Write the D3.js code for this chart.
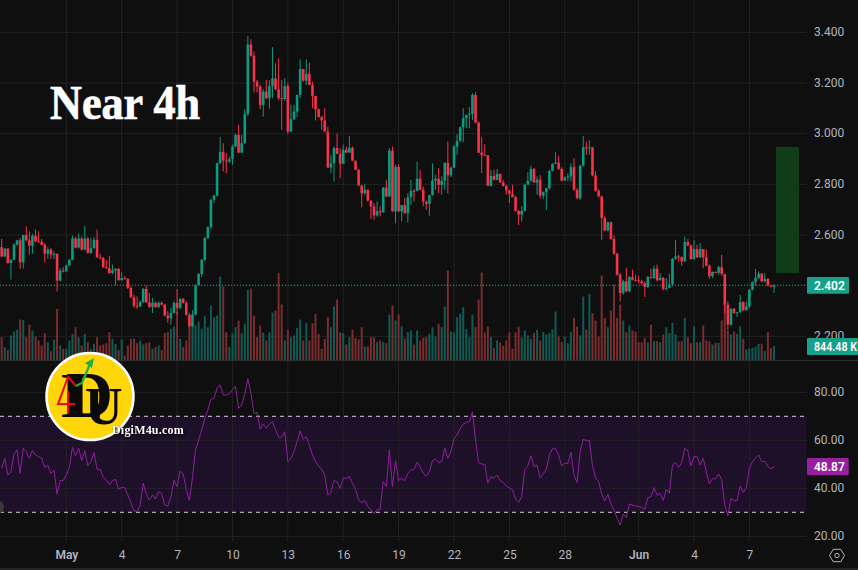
<!DOCTYPE html>
<html><head><meta charset="utf-8">
<style>html,body{margin:0;padding:0;background:#0f0f0f;overflow:hidden}svg{display:block}</style>
<script src="https://cdn.jsdelivr.net/npm/d3@7"></script>
</head><body><svg id="c" width="858" height="570"></svg>
<script>
const firstOpen = 2.552;
const closes = [2.515,2.546,2.489,2.502,2.561,2.579,2.492,2.600,2.579,2.558,
2.597,2.575,2.573,2.561,2.526,2.542,2.522,2.526,2.420,2.459,
2.456,2.479,2.502,2.586,2.550,2.586,2.542,2.586,2.529,2.548,
2.581,2.512,2.509,2.473,2.469,2.450,2.460,2.466,2.421,2.430,
2.426,2.391,2.354,2.321,2.318,2.335,2.387,2.334,2.316,2.332,
2.316,2.332,2.325,2.282,2.271,2.292,2.332,2.312,2.347,2.332,
2.284,2.240,2.286,2.402,2.446,2.502,2.588,2.631,2.739,2.755,
2.883,2.928,2.894,2.890,2.899,2.949,2.995,2.925,2.962,3.077,
3.352,3.307,3.205,3.186,3.113,3.166,3.140,3.188,3.218,3.175,
3.140,3.136,3.188,3.008,3.057,3.087,3.153,3.255,3.209,3.236,
3.192,3.149,3.096,3.065,3.052,3.008,2.866,2.883,2.943,2.920,
2.881,2.936,2.925,2.944,2.893,2.857,2.795,2.765,2.778,2.736,
2.713,2.677,2.694,2.689,2.787,2.752,2.933,2.693,2.869,2.693,
2.718,2.686,2.749,2.774,2.773,2.822,2.778,2.732,2.723,2.757,
2.814,2.822,2.798,2.814,2.885,2.835,2.866,2.949,2.971,3.025,
3.061,3.074,3.078,3.153,3.044,2.925,2.916,2.915,2.794,2.833,
2.818,2.841,2.807,2.794,2.776,2.763,2.749,2.695,2.680,2.695,
2.798,2.814,2.861,2.807,2.818,2.755,2.769,2.785,2.853,2.881,
2.886,2.861,2.815,2.828,2.831,2.868,2.778,2.745,2.873,2.946,
2.944,2.946,2.835,2.774,2.752,2.667,2.618,2.650,2.584,2.526,
2.443,2.371,2.417,2.378,2.434,2.423,2.421,2.417,2.410,2.395,
2.434,2.430,2.467,2.421,2.430,2.387,2.391,2.404,2.506,2.515,
2.513,2.496,2.572,2.559,2.505,2.544,2.512,2.544,2.512,2.479,
2.437,2.454,2.451,2.473,2.446,2.325,2.246,2.308,2.292,2.295,
2.335,2.303,2.318,2.384,2.414,2.430,2.447,2.417,2.426,2.400,
2.396,2.402];
const highs = [2.584,2.548,2.548,2.505,2.568,2.581,2.588,2.601,2.634,2.614,
2.605,2.621,2.614,2.584,2.568,2.552,2.548,2.535,2.526,2.469,
2.473,2.483,2.505,2.597,2.592,2.605,2.594,2.636,2.592,2.588,
2.592,2.621,2.526,2.513,2.502,2.518,2.483,2.469,2.469,2.452,
2.437,2.430,2.397,2.364,2.358,2.342,2.391,2.400,2.371,2.351,
2.338,2.338,2.338,2.329,2.299,2.312,2.338,2.387,2.351,2.351,
2.338,2.292,2.303,2.405,2.450,2.505,2.592,2.634,2.741,2.759,
2.886,2.986,2.962,2.923,2.910,2.956,3.000,3.035,2.995,3.096,
3.385,3.372,3.324,3.212,3.192,3.175,3.212,3.212,3.341,3.278,
3.297,3.212,3.218,3.201,3.113,3.113,3.153,3.293,3.254,3.293,
3.280,3.205,3.149,3.100,3.070,3.100,3.028,2.916,2.949,3.000,
2.943,2.956,2.949,2.991,2.949,2.893,2.860,2.798,2.802,2.781,
2.736,2.726,2.732,2.713,2.789,2.818,2.943,2.949,2.877,2.879,
2.719,2.745,2.765,2.818,2.782,2.889,2.857,2.791,2.736,2.759,
2.883,2.837,2.864,2.831,2.886,2.969,2.868,2.956,2.998,3.028,
3.100,3.074,3.104,3.159,3.163,3.048,2.986,2.958,2.915,2.857,
2.857,2.860,2.841,2.818,2.798,2.778,2.798,2.755,2.699,2.713,
2.802,2.847,2.873,2.864,2.831,2.837,2.772,2.785,2.857,2.883,
2.927,2.912,2.868,2.831,2.844,2.883,2.903,2.785,2.877,2.991,
2.969,2.973,2.946,2.851,2.781,2.755,2.676,2.653,2.653,2.597,
2.529,2.450,2.423,2.469,2.437,2.463,2.443,2.439,2.423,2.417,
2.439,2.466,2.479,2.483,2.450,2.434,2.430,2.447,2.509,2.581,
2.522,2.515,2.594,2.584,2.561,2.579,2.561,2.568,2.542,2.542,
2.483,2.456,2.456,2.479,2.522,2.446,2.338,2.312,2.312,2.295,
2.364,2.338,2.338,2.387,2.417,2.466,2.456,2.450,2.450,2.430,
2.401,2.405];
const lows = [2.513,2.513,2.487,2.424,2.500,2.558,2.466,2.468,2.575,2.522,
2.526,2.571,2.571,2.558,2.492,2.505,2.505,2.505,2.377,2.417,
2.452,2.463,2.500,2.500,2.547,2.547,2.539,2.539,2.526,2.526,
2.546,2.509,2.505,2.469,2.466,2.446,2.446,2.402,2.421,2.421,
2.424,2.387,2.351,2.312,2.308,2.316,2.332,2.332,2.312,2.292,
2.312,2.312,2.321,2.279,2.253,2.246,2.289,2.286,2.308,2.329,
2.282,2.237,2.237,2.282,2.400,2.434,2.496,2.585,2.623,2.726,
2.752,2.881,2.851,2.844,2.883,2.877,2.946,2.923,2.923,2.960,
3.070,3.304,3.162,3.162,3.096,3.067,3.136,3.098,3.140,3.172,
3.133,3.015,3.129,3.000,3.008,3.054,3.065,3.140,3.205,3.192,
3.192,3.100,3.052,3.065,3.015,3.008,2.866,2.844,2.811,2.920,
2.824,2.881,2.923,2.925,2.893,2.857,2.795,2.709,2.759,2.732,
2.663,2.660,2.673,2.673,2.689,2.749,2.752,2.692,2.647,2.690,
2.653,2.684,2.650,2.719,2.732,2.774,2.776,2.713,2.699,2.676,
2.755,2.778,2.765,2.759,2.778,2.765,2.828,2.864,2.916,2.969,
2.966,3.021,3.021,3.054,3.041,2.923,2.844,2.916,2.794,2.791,
2.815,2.815,2.805,2.791,2.759,2.726,2.749,2.693,2.640,2.653,
2.693,2.798,2.811,2.805,2.759,2.745,2.741,2.699,2.778,2.851,
2.881,2.857,2.811,2.814,2.811,2.811,2.774,2.741,2.739,2.870,
2.916,2.916,2.831,2.772,2.749,2.581,2.614,2.614,2.581,2.522,
2.439,2.338,2.364,2.374,2.374,2.421,2.417,2.410,2.404,2.355,
2.391,2.426,2.426,2.417,2.421,2.381,2.381,2.400,2.400,2.502,
2.496,2.479,2.492,2.555,2.502,2.502,2.509,2.509,2.469,2.476,
2.426,2.430,2.450,2.443,2.439,2.292,2.226,2.242,2.289,2.276,
2.292,2.299,2.301,2.312,2.381,2.400,2.426,2.414,2.413,2.397,
2.393,2.371];
const volumes = [1358,776,621,1455,1688,1785,2386,2367,1358,2095,
1746,1397,1164,873,1591,1067,543,1203,3007,873,
679,679,1164,1552,1940,1358,873,1552,1067,679,
970,1358,873,931,1009,1649,1261,970,621,1222,
291,873,1261,1261,1009,1164,931,1028,1067,679,
776,873,621,1591,1649,1843,1979,2813,1261,776,
1164,2037,2231,2037,2270,1843,2580,1940,3201,2522,
2619,4889,4307,1649,776,1591,1940,2328,1591,2134,
4113,4171,2619,1358,2037,1630,1164,1630,2794,2910,
5083,3259,1164,1785,1358,1455,1901,2386,1164,2173,
1164,2173,2716,1552,679,1261,2522,1940,3143,3550,
1630,1591,931,1358,1804,1319,1222,1940,815,815,
1358,1358,1067,1164,1067,1009,2677,3201,2328,2677,
1979,1261,1649,1746,931,1746,1164,1319,1358,1552,
1940,1397,2134,1940,3143,5238,1688,1649,2522,2716,
3104,1824,1358,2677,1940,3550,5122,1630,1979,1358,
718,1164,1048,854,1164,1630,679,1630,1979,1358,
1746,1455,1261,1591,1785,1164,1649,1513,1591,1804,
2852,1397,1067,1397,1009,1649,2483,1979,1455,3725,
1804,3880,2755,2328,1397,4947,2483,1940,2910,4423,
2483,3259,2328,1649,2037,1746,1688,1067,1067,1319,
1048,2095,1125,1125,1067,1513,1940,1591,2192,1513,
1125,1125,2483,1358,1009,1979,1067,1067,2037,1164,
1125,931,1028,1028,2328,3298,1746,1513,1688,1552,
1979,1261,640,698,737,815,970,970,543,1649,
737,844.48];
const rsi = [48.3,52.5,45.5,46.9,54.3,56.0,46.2,56.7,55.3,52.5,
55.7,53.9,53.2,52.5,48.6,49.7,46.2,47.6,37.6,43.2,
43.2,45.5,48.7,57.1,53.5,56.7,51.5,55.7,49.4,51.1,
54.9,47.9,47.9,44.6,43.5,41.5,43.2,43.7,39.6,40.4,
40.4,37.2,34.0,30.6,30.3,33.0,42.1,37.6,35.1,37.2,
35.6,38.6,37.9,33.0,32.6,36.5,43.5,40.7,47.2,46.0,
39.3,34.9,44.2,56.2,60.1,64.3,69.2,72.6,77.1,77.5,
81.7,83.1,78.9,78.9,79.3,81.2,82.4,73.3,74.7,79.3,
85.6,79.6,71.2,71.5,64.6,66.8,65.0,66.8,67.8,64.3,
61.2,61.2,63.6,51.1,52.5,
55.3,59.4,63.9,60.4,61.5,58.0,53.9,51.1,49.3,47.9,45.5,37.2,38.3,43.2,42.8,
40.0,44.2,44.2,44.9,42.1,39.6,35.1,34.0,34.9,32.4,31.0,29.6,31.2,31.2,42.8,
40.7,56.0,40.7,51.4,43.2,44.2,43.2,46.2,47.6,47.9,50.8,49.0,46.2,45.1,46.9,
51.5,52.2,50.7,51.2,56.7,52.5,55.3,60.8,62.2,65.0,66.8,67.4,67.8,71.9,60.1,
50.7,50.1,50.0,42.1,44.9,44.2,45.5,43.2,42.4,41.0,40.1,39.3,35.6,34.2,36.5,
47.9,49.4,53.6,49.0,49.7,44.2,46.0,47.9,53.9,56.5,56.5,53.9,49.3,50.4,50.4,
55.0,45.5,42.4,55.3,
60.4,59.9,59.9,49.3,44.4,42.8,37.6,34.7,37.5,33.5,31.0,27.5,24.7,29.3,27.8,
33.5,33.0,32.6,32.4,32.1,31.2,36.1,36.5,40.3,37.1,37.9,34.9,39.6,37.9,49.7,
50.7,48.7,50.7,56.7,55.7,49.3,53.2,53.2,49.7,52.5,46.9,41.8,44.0,44.0,46.0,
43.5,33.0,28.6,35.8,34.9,34.9,41.0,38.2,40.4,48.3,51.1,52.5,53.9,51.1,51.4,
49.0,48.2,48.87];
const priceTicks = [2.2,2.4,2.6,2.8,3.0,3.2,3.4];
const rsiTicks = [20,40,60,80];
const rsiBands = [30,70];
const dayIndex = [21,39,57,75,93,111,129,147,165,183,207,225,243];
const dayLabels = ['May','4','7','10','13','16','19','22','25','28','Jun','4','7'];
const lastPrice = 2.402, lastVolume = '844.48 K', lastRsi = '48.87';
const targetZone = [2.45,2.948];

const W=858,H=570,paneR=806.5,divY=360.5,axisY=541;
const GREEN='#0b9b80',RED='#f7324a',VG='#0f5b53',VR='#7a2c2e';
const svg=d3.select('#c');
const opens=closes.map((c,i)=>i?closes[i-1]:firstOpen);
const x=d3.scaleLinear().domain([21,243]).range([66.3,749.4]);
const py=d3.scaleLinear().domain([2.2,3.4]).range([336.3,32.3]);
const vy=d3.scaleLinear().domain([0,844.48]).range([360.5,346]);
const ry=d3.scaleLinear().domain([20,80]).range([536.3,392.3]);

svg.append('rect').attr('width',W).attr('height',H).attr('fill','#0f0f0f');
svg.append('rect').attr('x',0).attr('width',paneR).attr('y',ry(70)).attr('height',ry(30)-ry(70)).attr('fill','#1e1028');
const g=svg.append('g').attr('stroke','#222225').attr('stroke-width',1);
g.selectAll('.v').data(dayIndex).join('line').attr('x1',d=>x(d)).attr('x2',d=>x(d)).attr('y1',0).attr('y2',axisY);
g.selectAll('.p').data(priceTicks).join('line').attr('x1',0).attr('x2',paneR).attr('y1',d=>py(d)).attr('y2',d=>py(d));
g.selectAll('.r').data(rsiTicks).join('line').attr('x1',0).attr('x2',paneR).attr('y1',d=>ry(d)).attr('y2',d=>ry(d));
svg.append('g').selectAll('rect').data(volumes).join('rect')
 .attr('x',(d,i)=>x(i)-1).attr('width',2).attr('y',d=>vy(d)).attr('height',d=>vy(0)-vy(d))
 .attr('fill',(d,i)=>closes[i]>=opens[i]?VG:VR);
svg.append('rect').attr('x',776).attr('width',23).attr('y',py(targetZone[1])).attr('height',py(targetZone[0])-py(targetZone[1])).attr('fill','#123c18');
svg.append('line').attr('x1',0).attr('x2',paneR).attr('y1',py(lastPrice)).attr('y2',py(lastPrice)).attr('stroke','#1f9c86').attr('stroke-width',1).attr('stroke-dasharray','1 2');
const cg=svg.append('g');
cg.selectAll('line').data(closes).join('line')
 .attr('x1',(d,i)=>x(i)).attr('x2',(d,i)=>x(i)).attr('y1',(d,i)=>py(highs[i])).attr('y2',(d,i)=>py(lows[i]))
 .attr('stroke',(d,i)=>d>=opens[i]?GREEN:RED).attr('stroke-width',1);
cg.selectAll('rect').data(closes).join('rect')
 .attr('x',(d,i)=>x(i)-1.3).attr('width',2.6)
 .attr('y',(d,i)=>py(Math.max(d,opens[i])))
 .attr('height',(d,i)=>Math.max(1,Math.abs(py(d)-py(opens[i]))))
 .attr('fill',(d,i)=>d>=opens[i]?GREEN:RED);
svg.append('line').attr('x1',0).attr('x2',W).attr('y1',divY).attr('y2',divY).attr('stroke','#2e2e30');
svg.append('line').attr('x1',0).attr('x2',W).attr('y1',569).attr('y2',569).attr('stroke','#3a3a3c');
svg.selectAll('.band').data(rsiBands).join('line').attr('x1',0).attr('x2',paneR).attr('y1',d=>ry(d)).attr('y2',d=>ry(d))
 .attr('stroke','#d4cdd8').attr('stroke-width',1).attr('stroke-dasharray','4 4');
svg.append('path').datum(rsi).attr('fill','none').attr('stroke','#8e1f9f').attr('stroke-width',1)
 .attr('d',d3.line().x((d,i)=>x(i)).y(d=>ry(d)));
svg.append('circle').attr('cx',-3).attr('cy',507).attr('r',7).attr('fill','#3a3a3c');

function styleAxis(sel){sel.select('.domain').remove();sel.selectAll('.tick line').remove();
 sel.selectAll('text').attr('fill','#b2b5be').style('font-family','Roboto,sans-serif').style('font-size','12px');}
svg.append('g').attr('transform','translate(811,-0.5)')
 .call(d3.axisRight(py).tickValues(priceTicks.filter(d=>d!==2.4)).tickSize(0).tickPadding(3).tickFormat(d3.format('.3f'))).call(styleAxis);
svg.append('g').attr('transform','translate(811,-0.5)')
 .call(d3.axisRight(ry).tickValues(rsiTicks).tickSize(0).tickPadding(3).tickFormat(d3.format('.2f'))).call(styleAxis);
const ta=svg.append('g').attr('transform',`translate(0,${axisY})`)
 .call(d3.axisBottom(x).tickValues(dayIndex).tickSize(0).tickPadding(9).tickFormat((d,i)=>dayLabels[i])).call(styleAxis);
ta.selectAll('text').style('font-weight',d=>isNaN(+dayLabels[dayIndex.indexOf(d)])?'600':'400');

function tag(y0,y1,x1,fill,text,len){
 const gg=svg.append('g');
 gg.append('rect').attr('x',807).attr('y',y0).attr('width',x1-807).attr('height',y1-y0).attr('rx',1).attr('fill',fill);
 const t=gg.append('text').attr('x',814).attr('y',(y0+y1)/2+4.3).attr('fill','#fff').style('font-family','Roboto,sans-serif').style('font-size','12px').style('font-weight','600').text(text);
 if(len) t.attr('textLength',len).attr('lengthAdjust','spacingAndGlyphs');
}
tag(277,293.7,849,'#17a08a',d3.format('.3f')(lastPrice));
tag(338,355,858,'#17a08a',lastVolume,43);
tag(458,475.3,848.7,'#97209f',lastRsi);

const ic=svg.append('g').attr('transform','translate(837,555.5)').attr('fill','none').attr('stroke','#b2b5be').attr('stroke-width',1);
ic.append('path').attr('d','M-7.5,0L-3.8,-6.2H3.8L7.5,0L3.8,6.2H-3.8Z');
ic.append('circle').attr('r',2.2);

svg.append('text').attr('x',50).attr('y',119).attr('fill','#fff').attr('stroke','#fff').attr('stroke-width',0.7)
 .attr('textLength',150).attr('lengthAdjust','spacingAndGlyphs')
 .style('font-family','"Liberation Serif",serif').style('font-weight','700').style('font-size','49px').text('Near 4h');

const lg=svg.append('g');
lg.append('circle').attr('cx',90).attr('cy',396.5).attr('r',43.5).attr('fill','#ffd60a').attr('stroke','#fff').attr('stroke-width',2.5);
const serif=(t,xx,yy,fs)=>lg.append('text').attr('x',xx).attr('y',yy).attr('fill','#0a0a0a').style('font-family','"Liberation Serif",serif').style('font-weight','700').style('font-size',fs+'px').text(t);
serif('L',61,417,64);
serif('D',66,417,65);
serif('U',85,424,52);
lg.append('path').attr('d','M76,386L68,377L58,404H75M68,391V413').attr('fill','none').attr('stroke','#f00').attr('stroke-width',2);
lg.append('path').attr('d','M76,386L82,383L90,364').attr('fill','none').attr('stroke','#1fb141').attr('stroke-width',2.2);
lg.append('path').attr('d','M94,358L85,363L92,368Z').attr('fill','#1fb141');
svg.append('text').attr('x',112).attr('y',434).attr('fill','#fff').style('font-family','"Liberation Serif",serif').style('font-weight','700').style('font-size','12px').style('letter-spacing','0.2px').style('filter','drop-shadow(1px 1px 1px #000)').text('DigiM4u.com');
</script></body></html>
